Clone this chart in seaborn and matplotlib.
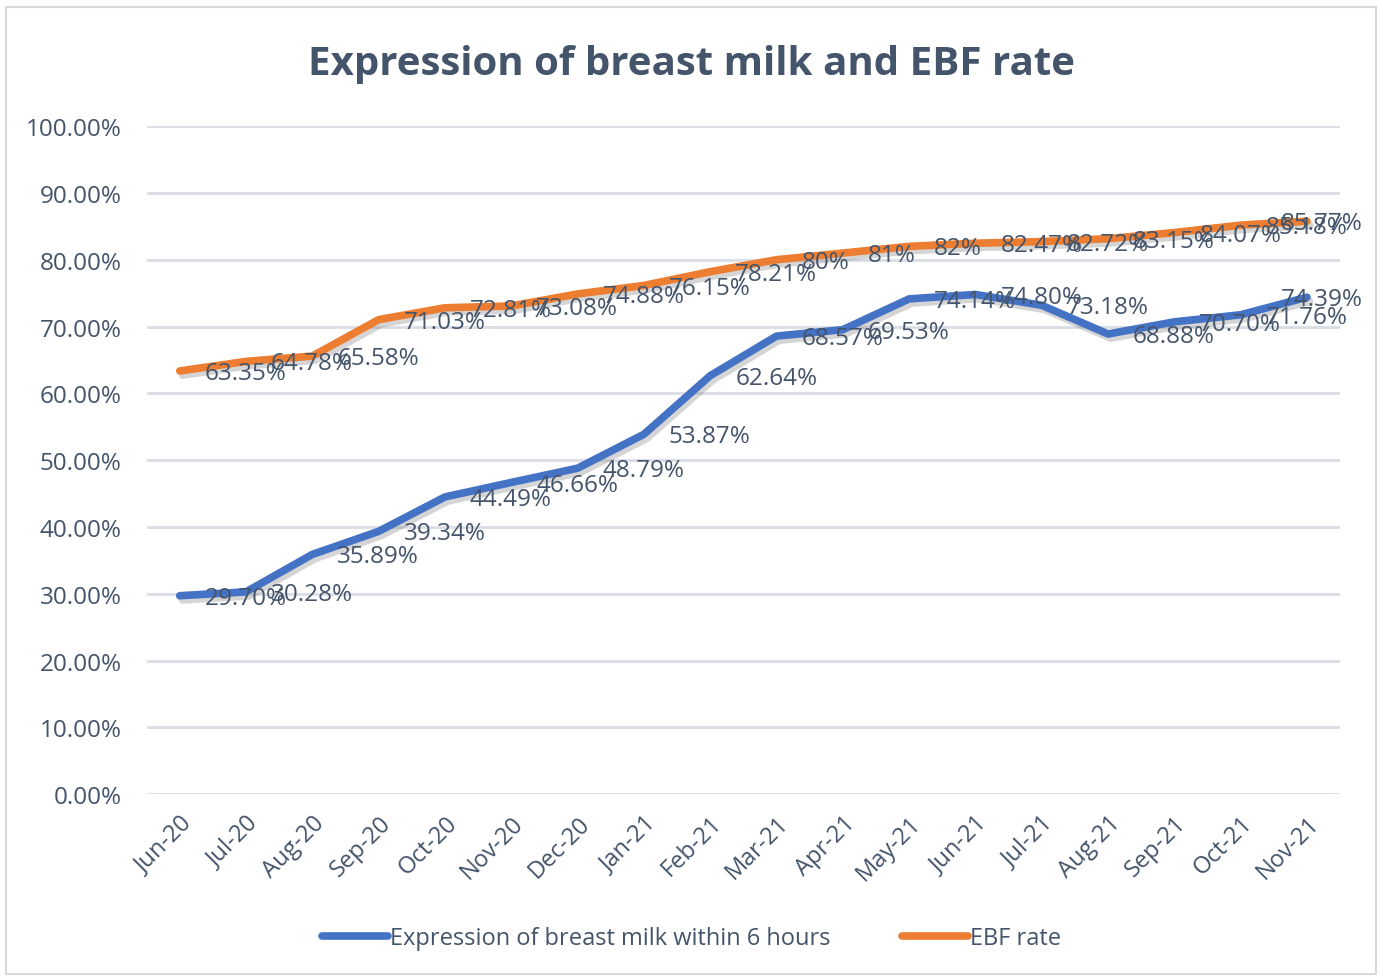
import numpy as np
import pandas as pd
import matplotlib
matplotlib.use('Agg')
import matplotlib.pyplot as plt
import matplotlib.patheffects as pe
from matplotlib.lines import Line2D
import seaborn as sns

months = ['Jun-20', 'Jul-20', 'Aug-20', 'Sep-20', 'Oct-20', 'Nov-20', 'Dec-20',
          'Jan-21', 'Feb-21', 'Mar-21', 'Apr-21', 'May-21', 'Jun-21', 'Jul-21',
          'Aug-21', 'Sep-21', 'Oct-21', 'Nov-21']
expression = [29.70, 30.28, 35.89, 39.34, 44.49, 46.66, 48.79, 53.87, 62.64, 68.57,
              69.53, 74.14, 74.80, 73.18, 68.88, 70.70, 71.76, 74.39]
expression_labels = ['29.70%', '30.28%', '35.89%', '39.34%', '44.49%', '46.66%', '48.79%',
                     '53.87%', '62.64%', '68.57%', '69.53%', '74.14%', '74.80%', '73.18%',
                     '68.88%', '70.70%', '71.76%', '74.39%']
ebf = [63.35, 64.78, 65.58, 71.03, 72.81, 73.08, 74.88, 76.15, 78.21, 80.0,
       81.0, 82.0, 82.47, 82.72, 83.15, 84.07, 85.18, 85.77]
ebf_labels = ['63.35%', '64.78%', '65.58%', '71.03%', '72.81%', '73.08%', '74.88%',
              '76.15%', '78.21%', '80%', '81%', '82%', '82.47%', '82.72%', '83.15%',
              '84.07%', '85.18%', '85.77%']
yticks = [0, 10, 20, 30, 40, 50, 60, 70, 80, 90, 100]

txt = '#44546A'
sns.set_style('white')
plt.rcParams['font.family'] = ['Open Sans', 'DejaVu Sans']

pos = np.arange(len(months))
df = pd.DataFrame({
    'pos': np.concatenate([pos, pos]),
    'value': expression + ebf,
    'series': ['Expression of breast milk within 6 hours'] * len(months) + ['EBF rate'] * len(months),
})

fig = plt.figure(figsize=(13.83, 9.78), dpi=100)
ax = fig.add_axes([0.106, 0.187, 0.863, 0.683])

shadow = [pe.SimpleLineShadow(offset=(2, -3), shadow_color='#888888', alpha=0.35), pe.Normal()]
sns.lineplot(data=df, x='pos', y='value', hue='series',
             palette=['#4472C4', '#ED7D31'], linewidth=5.5, ax=ax,
             legend=False, solid_capstyle='round')
for line in ax.get_lines():
    line.set_path_effects(shadow)

# excel style labels, right of the point (last one pushed back inside)
for vals, labs in [(expression, expression_labels), (ebf, ebf_labels)]:
    for i, (v, s) in enumerate(zip(vals, labs)):
        dx = 18 if i < len(vals) - 1 else -19
        ax.annotate(s, (i, v), xytext=(dx, -1.5), textcoords='offset points',
                    ha='left', va='center', fontsize=17.5, color=txt)

ax.set_xlim(-0.5, len(months) - 0.5)
ax.set_ylim(0, 100)
ax.set_yticks(yticks)
ax.set_yticklabels([f'{t:.2f}%' for t in yticks], fontsize=17.5, color=txt)
ax.set_xticks(pos)
ax.set_xticklabels(months, rotation=45, ha='right', rotation_mode='anchor',
                   fontsize=17, color=txt)
ax.tick_params(axis='y', length=0, pad=18)
ax.tick_params(axis='x', length=0, pad=12)
ax.yaxis.grid(True, color='#D9DDE5', linewidth=2)
ax.set_axisbelow(True)
for sp in ax.spines.values():
    sp.set_visible(False)
ax.set_xlabel('')
ax.set_ylabel('')

fig.text(0.5, 0.934, 'Expression of breast milk and EBF rate', ha='center', va='center',
         fontsize=29, fontweight='bold', color=txt)

handles = [Line2D([], [], color='#4472C4', linewidth=5.5, solid_capstyle='round'),
           Line2D([], [], color='#ED7D31', linewidth=5.5, solid_capstyle='round')]
fig.legend(handles, ['Expression of breast milk within 6 hours', 'EBF rate'],
           loc='center', bbox_to_anchor=(0.5, 0.040), ncol=2, frameon=False,
           fontsize=17, handlelength=2.8, handletextpad=0.1, columnspacing=3.0,
           labelcolor=txt)

fig.patches.append(plt.Rectangle((0.004, 0.003), 0.991, 0.989, transform=fig.transFigure,
                                 fill=False, edgecolor='#D9D9D9', linewidth=1.5))

fig.savefig('out.png', dpi=100)
